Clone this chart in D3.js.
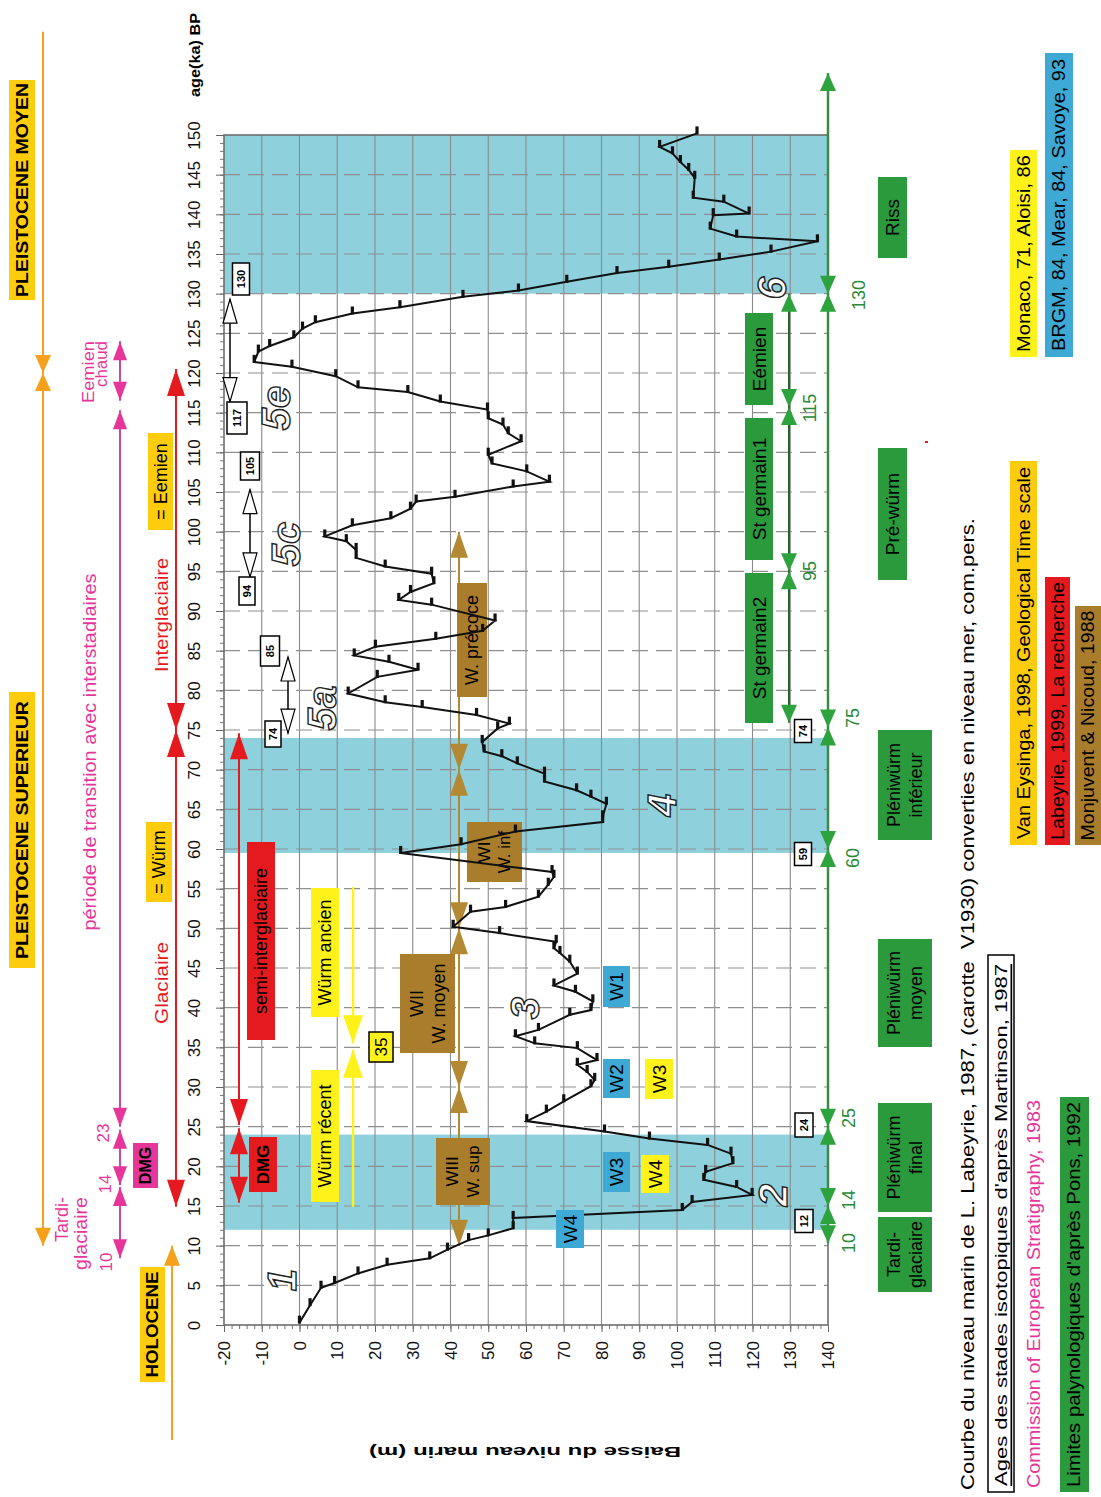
<!DOCTYPE html>
<html><head><meta charset="utf-8">
<script src="https://cdn.jsdelivr.net/npm/d3@7/dist/d3.min.js"></script>
<style>
body{margin:0;background:#fff;}
svg text{font-family:"Liberation Sans",Arial,Helvetica,sans-serif;}
</style></head>
<body>
<svg id="chart" width="1101" height="1497"></svg>
<script>
// ---------------- DATA ----------------
// Sea-level curve (Labeyrie 1987): age in ka BP, and drop of sea level in m
const seaAges = [
 0.3, 2.5, 4.7, 5.3, 6.5, 7.6, 8.4, 9.5, 10.7, 11.3,
 12.2, 13.5, 14.5, 15.5, 16.4, 17.4, 18.3, 19.3, 20.4, 21.6,
 22.7, 23.5, 24.4, 25.7, 26.9, 28.2, 30.1, 30.9, 31.9, 32.8,
 33.4, 34.9, 35.5, 36.4, 37.2, 39.1, 39.7, 40.8, 42.0, 42.8,
 44.3, 45.8, 46.9, 47.5, 48.3, 49.4, 50.2, 52.1, 52.7, 54.0,
 55.5, 56.5, 57.1, 59.5, 60.6, 62.2, 63.4, 64.0, 65.7, 66.6,
 67.4, 68.5, 69.5, 70.8, 71.7, 72.3, 73.5, 75.2, 75.8, 76.9,
 77.9, 78.5, 79.6, 81.7, 82.6, 83.6, 84.4, 85.5, 86.5, 87.5,
 88.8, 90.8, 91.4, 92.4, 93.5, 94.7, 95.6, 96.7, 97.7, 98.8,
 99.4, 100.8, 101.7, 102.9, 103.8, 104.4, 105.7, 106.3, 107.6, 108.6,
 109.7, 111.4, 112.4, 113.5, 114.3, 115.4, 116.4, 117.6, 118.2, 119.6,
 120.8, 121.4, 122.7, 123.4, 124.5, 125.6, 126.4, 127.5, 128.3, 129.6,
 130.4, 131.5, 132.6, 133.4, 134.3, 135.3, 136.6, 137.2, 138.2, 139.9,
 140.1, 141.6, 142.1, 144.6, 145.6, 146.6, 147.7, 148.5, 150.2];
const seaLevels = [
 0, 2.8, 5.7, 9.3, 15.5, 23.2, 34.5, 39.2, 44.8, 50.0,
 56.6, 56.6, 101.4, 104.0, 119.9, 115.8, 107.1, 107.6, 114.8, 114.3,
 108.1, 92.7, 80.8, 60.2, 65.4, 70.0, 77.2, 78.2, 76.2, 73.6,
 78.8, 73.6, 62.3, 57.2, 63.3, 71.6, 77.2, 77.7, 73.1, 67.4,
 73.6, 71.6, 69.0, 67.4, 68.0, 53.0, 40.7, 45.3, 54.6, 63.3,
 65.9, 67.4, 66.9, 26.8, 42.8, 57.2, 80.3, 80.3, 81.3, 77.2,
 73.4, 64.9, 64.9, 57.7, 53.6, 48.9, 48.4, 52.5, 55.6, 46.9,
 32.5, 22.7, 12.9, 20.6, 31.4, 23.7, 14.5, 20.1, 36.1, 48.5,
 51.8, 35.0, 26.3, 29.4, 35.6, 35.0, 22.7, 15.0, 15.0, 12.4,
 6.7, 14.0, 24.2, 29.4, 30.9, 41.2, 56.6, 66.2, 60.2, 51.0,
 50.0, 58.7, 55.3, 53.9, 50.0, 49.8, 37.3, 28.7, 15.5, 9.6,
 -2.0, -12.0, -10.9, -7.9, -1.5, 0.8, 4.2, 14.0, 26.6, 43.3,
 58.0, 70.8, 84.1, 97.8, 111.2, 124.9, 137.2, 115.8, 108.8, 109.6,
 119.1, 112.4, 104.3, 104.7, 103.1, 100.9, 98.8, 95.4, 105.3];
const ageTicks = d3.range(0, 151, 5);
const levelTicks = d3.range(-20, 141, 10);
const stageBands = [[130, 150], [59.5, 74], [12, 24]];   // isotope stages 6, 4, 2 (ka)
// chronological brackets (ages of breakpoints, ka)
const orangeBreaks = [163, 120, 10];
const holoceneBreaks = [10, -14.5];
const pinkBreaks = [[124, 116.5], [115.3, 25], [24.6, 17.6], [17.4, 8.4]];
const redBreaks = [120.5, 75, 14.9];
const red2Breaks = [[74.6, 25.2], [24.8, 15.4]];
const brownBreaks = [100, 70, 50, 30, 10];
const yellowBreaks = [[55.2, 35.5], [34.7, 14.9]];
const greenBreaks = [157.8, 130, 75.3, 60, 25, 15, 10.3];
const green2Breaks = [130, 115.7, 95, 75.9];
const whiteArrows = [[129.3, 116.4], [105.3, 94.3], [84.2, 74.6]];
const stageNames = ["1", "2", "3", "4", "5a", "5c", "5e", "6"];

// ---------------- SETUP ----------------
const svg = d3.select("#chart");
const ageY = d3.scaleLinear().domain([0, 150]).range([1325, 135]);
const levelX = d3.scaleLinear().domain([-20, 140]).range([224, 828]);
const X0 = levelX(-20), X1 = levelX(140), YT = ageY(150), YB = ageY(0);

const GOLD = "#fdcc0d", LEMON = "#fff21a", PINK = "#e6369a", RED = "#e51a1f",
      BROWN = "#a97d2c", BLUE = "#3ea9d4", GREEN = "#2a9a3c", GTXT = "#2a8a38",
      ORANGE = "#f6a11c";

function rtext(x, y, str, o = {}) {
  const t = svg.append("text")
    .attr("transform", `translate(${x},${y}) rotate(${o.rot ?? -90})`)
    .attr("text-anchor", o.anchor || "middle")
    .attr("dominant-baseline", "central")
    .attr("fill", o.fill || "#000")
    .style("font-size", (o.size || 18) + "px")
    .text(str);
  if (o.bold) t.style("font-weight", "bold");
  if (o.italic) t.style("font-style", "italic");
  if (o.len) t.attr("textLength", o.len).attr("lengthAdjust", "spacingAndGlyphs");
  if (o.underline) t.style("text-decoration", "underline");
  if (o.stroke) t.attr("stroke", o.stroke).attr("stroke-width", o.sw || 1);
  t.style("white-space", "pre");
  return t;
}
function rbox(x0, x1, y0, y1, fill, lines, o = {}) {
  svg.append("rect").attr("x", x0).attr("y", y0).attr("width", x1 - x0).attr("height", y1 - y0)
    .attr("fill", fill).attr("stroke", o.box || "none").attr("stroke-width", o.bw || 1.3);
  const cx = (x0 + x1) / 2, cy = (y0 + y1) / 2, n = lines.length, lh = o.lh || 20;
  lines.forEach((s, i) => rtext(cx + (i - (n - 1) / 2) * lh, cy, s,
    Object.assign({}, o, {len: Array.isArray(o.len) ? o.len[i] : o.len})));
}
function head(x, y, dir, color, L, hw, stroke) {
  // dir = -1 : pointing up (tip at y, body below) ; +1 : pointing down
  const b = y - dir * L;
  svg.append("path").attr("d", `M${x},${y}L${x - hw},${b}L${x + hw},${b}Z`)
    .attr("fill", color).attr("stroke", stroke || "none").attr("stroke-width", 1.2);
}
function bracket(x, ages, color, o = {}) {
  const ys = ages.map(ageY), n = ys.length;
  svg.append("line").attr("x1", x).attr("x2", x).attr("y1", ys[0]).attr("y2", ys[n - 1])
    .attr("stroke", o.line || color).attr("stroke-width", o.w || 2);
  const L = o.len || 20, hw = o.hw || 7;
  ys.forEach((y, i) => {
    if (i < n - 1 && (i > 0 || o.headTop !== false)) head(x, y, -1, color, L, hw, o.stroke);
    if (i > 0 && (i < n - 1 || o.headBottom !== false)) head(x, y, 1, color, L, hw, o.stroke);
  });
}

// ---------------- PLOT AREA ----------------
svg.append("g").selectAll("rect").data(stageBands).join("rect")
  .attr("x", X0).attr("width", X1 - X0)
  .attr("y", d => ageY(d[1])).attr("height", d => ageY(d[0]) - ageY(d[1]))
  .attr("fill", "#8fd0dd");

svg.append("g").selectAll("line").data(levelTicks.slice(1, -1)).join("line")
  .attr("x1", d => levelX(d)).attr("x2", d => levelX(d)).attr("y1", YT).attr("y2", YB)
  .attr("stroke", "#8a8a8a").attr("stroke-width", 1.1);
svg.append("g").selectAll("line").data(ageTicks.slice(1, -1)).join("line")
  .attr("x1", X0).attr("x2", X1).attr("y1", d => ageY(d)).attr("y2", d => ageY(d))
  .attr("stroke", "#8f8f8f").attr("stroke-width", 1.1).attr("stroke-dasharray", "16,8");

// left (age) axis
const axMinor = svg.append("g").attr("transform", `translate(${X0},0)`)
  .call(d3.axisLeft(ageY).tickValues(d3.range(0, 151, 1)).tickSize(4).tickFormat(""));
axMinor.select(".domain").remove();
axMinor.selectAll("line").attr("stroke", "#777");
const axAge = svg.append("g").attr("transform", `translate(${X0},0)`)
  .call(d3.axisLeft(ageY).tickValues(ageTicks).tickSize(8).tickFormat(d => String(d)));
axAge.select(".domain").remove();
axAge.selectAll("line").attr("stroke", "#666");
axAge.selectAll("text").attr("x", 0).attr("dy", 0)
  .attr("transform", "translate(-30,0) rotate(-90)")
  .attr("text-anchor", "middle").attr("dominant-baseline", "central")
  .attr("fill", "#111").style("font-size", "17px");

// bottom (level) axis
const axMinorB = svg.append("g").attr("transform", `translate(0,${YB})`)
  .call(d3.axisBottom(levelX).tickValues(d3.range(-20, 141, 2)).tickSize(4).tickFormat(""));
axMinorB.select(".domain").remove();
axMinorB.selectAll("line").attr("stroke", "#777");
const axLev = svg.append("g").attr("transform", `translate(0,${YB})`)
  .call(d3.axisBottom(levelX).tickValues(levelTicks).tickSize(7).tickFormat(d => String(d)));
axLev.select(".domain").remove();
axLev.selectAll("line").attr("stroke", "#666");
axLev.selectAll("text").attr("y", 0).attr("dy", 0)
  .attr("transform", "translate(0,16) rotate(-90)")
  .attr("text-anchor", "end").attr("dominant-baseline", "central")
  .attr("fill", "#111").style("font-size", "17px");

svg.append("rect").attr("x", X0).attr("y", YT).attr("width", X1 - X0).attr("height", YB - YT)
  .attr("fill", "none").attr("stroke", "#6e6e6e").attr("stroke-width", 1.6);

// ---------------- IN-PLOT ANNOTATIONS (under curve) ----------------
red2Breaks.forEach(b => bracket(239, b, RED, {len: 26, hw: 9}));
rbox(247, 275, 842, 1040, RED, ["semi-interglaciaire"], {size: 18});
rbox(249, 277, 1137, 1192, RED, ["DMG"], {size: 17, bold: true});

bracket(353, yellowBreaks[0], LEMON, {len: 28, hw: 10, headTop: false, w: 2.5});
bracket(353, yellowBreaks[1], LEMON, {len: 28, hw: 10, headBottom: false, w: 2.5});
rbox(311, 339, 888, 1017, LEMON, ["Würm ancien"], {size: 18});
rbox(311, 339, 1070, 1202, LEMON, ["Würm récent"], {size: 18});
rbox(369, 393, 1032, 1062, LEMON, ["35"], {size: 17, box: "#000", bw: 1.5});

bracket(459, brownBreaks, "#b38a33", {len: 26, hw: 9});
rbox(457, 487, 583, 697, BROWN, ["W. précoce"], {size: 18});
rbox(467, 522, 822, 882, BROWN, ["WI", "W. inf"], {size: 17, lh: 20});
rbox(400, 455, 954, 1053, BROWN, ["WII", "W. moyen"], {size: 18, lh: 22});
rbox(436, 490, 1138, 1205, BROWN, ["WIII", "W. sup"], {size: 17, lh: 21});

[[230], [250], [288]].forEach((p, i) =>
  bracket(p[0], whiteArrows[i], "#fff", {len: 24, hw: 7, stroke: "#000", line: "#000", w: 1.5}));

[["130", 241, 279, 17, 32], ["117", 237, 418, 20, 32], ["105", 250, 466, 19, 28],
 ["94", 247, 591, 16, 28], ["85", 270, 651, 19, 30], ["74", 273, 734, 16, 26],
 ["74", 803, 731, 17, 23], ["59", 803, 854, 17, 23], ["24", 804, 1125, 18, 24], ["12", 804, 1221, 18, 23]]
 .forEach(d => rbox(d[1] - d[3] / 2, d[1] + d[3] / 2, d[2] - d[4] / 2, d[2] + d[4] / 2, "#fff", [d[0]],
   {size: 11, bold: true, box: "#000", bw: 1.5}));

// ---------------- CURVE ----------------
const pts = seaAges.map((a, i) => [a, seaLevels[i]]);
svg.append("path").datum(pts)
  .attr("d", d3.line().x(d => levelX(d[1])).y(d => ageY(d[0])))
  .attr("fill", "none").attr("stroke", "#111").attr("stroke-width", 2);
svg.append("g").selectAll("rect").data(pts).join("rect")
  .attr("x", d => levelX(d[1]) - 1.6).attr("y", d => ageY(d[0]) - 7)
  .attr("width", 3.2).attr("height", 8).attr("fill", "#111");

// W boxes over curve
rbox(603, 630, 966, 1007, BLUE, ["W1"], {size: 19});
rbox(603, 630, 1059, 1098, BLUE, ["W2"], {size: 19});
rbox(603, 630, 1152, 1192, BLUE, ["W3"], {size: 19});
rbox(556, 584, 1210, 1248, BLUE, ["W4"], {size: 19});
rbox(645, 673, 1059, 1099, LEMON, ["W3"], {size: 19});
rbox(641, 669, 1155, 1193, LEMON, ["W4"], {size: 19});

// stage numbers
[[282, 1280], [773, 1195], [525, 1008], [662, 805], [322, 708], [286, 544], [276, 408], [772, 288]]
 .forEach((p, i) => rtext(p[0], p[1], stageNames[i],
   {size: 40, bold: true, italic: true, fill: "#fff", stroke: "#222", sw: 1.4}));

// ---------------- GREEN (pollen) SCALE ----------------
bracket(828, greenBreaks, "#2ea23d", {line: "#3a8a48", len: 18, hw: 8, w: 2.5, headBottom: true});
bracket(789, green2Breaks, "#2ea23d", {line: "#1f6a2a", len: 18, hw: 8, w: 2});
[["130", 859, 295], ["115", 810, 408], ["95", 810, 571], ["75", 853, 718], ["60", 853, 858],
 ["25", 849, 1118], ["14", 849, 1200], ["10", 849, 1243]]
 .forEach(d => rtext(d[1], d[2], d[0], {fill: GTXT, size: 18}));
rbox(878, 907, 177, 258, GREEN, ["Riss"], {size: 19});
rbox(745, 773, 313, 405, GREEN, ["Eémien"], {size: 19});
rbox(745, 773, 418, 560, GREEN, ["St germain1"], {size: 19});
rbox(745, 773, 573, 723, GREEN, ["St germain2"], {size: 19});
rbox(878, 907, 448, 580, GREEN, ["Pré-würm"], {size: 19});
rbox(878, 932, 730, 840, GREEN, ["Pléniwürm", "inférieur"], {size: 18, lh: 22});
rbox(878, 932, 939, 1047, GREEN, ["Pléniwürm", "moyen"], {size: 18, lh: 22});
rbox(878, 932, 1103, 1212, GREEN, ["Pléniwürm", "final"], {size: 18, lh: 22});
rbox(878, 932, 1217, 1292, GREEN, ["Tardi-", "glaciaire"], {size: 18, lh: 22});

// ---------------- LEFT BRACKETS ----------------
bracket(43, orangeBreaks, ORANGE, {len: 18, hw: 8, headTop: false});
bracket(172, holoceneBreaks, ORANGE, {len: 20, hw: 8, headBottom: false});
pinkBreaks.forEach(b => bracket(120, b, PINK, {line: "#c24aae", len: 19, hw: 7}));
bracket(176, redBreaks, RED, {len: 27, hw: 9});

rbox(9, 35, 80, 300, GOLD, ["PLEISTOCENE MOYEN"], {bold: true, size: 17, len: 214});
rbox(9, 35, 692, 968, GOLD, ["PLEISTOCENE SUPERIEUR"], {bold: true, size: 17, len: 258});
rbox(140, 165, 1267, 1382, GOLD, ["HOLOCENE"], {bold: true, size: 17, len: 106});
rbox(133, 158, 1143, 1188, PINK, ["DMG"], {bold: true, size: 16});
rbox(148, 173, 433, 530, GOLD, ["= Eemien"], {size: 18});
rbox(146, 172, 822, 902, GOLD, ["= Würm"], {size: 18});
rtext(162, 615, "Interglaciaire", {fill: RED, size: 18, len: 114});
rtext(162, 983, "Glaciaire", {fill: RED, size: 18, len: 82});
rtext(90, 752, "période de transition avec interstadiaires", {fill: PINK, size: 18, len: 357});
rtext(88, 341, "Eemien", {fill: PINK, size: 17, anchor: "end", len: 62});
rtext(101, 341, "chaud", {fill: PINK, size: 17, anchor: "end", len: 46});
rtext(62, 1197, "Tardi-", {fill: PINK, size: 18, anchor: "end"});
rtext(81, 1197, "glaciaire", {fill: PINK, size: 18, anchor: "end", len: 73});
rtext(106, 1262, "10", {fill: PINK, size: 17});
rtext(105, 1184, "14", {fill: PINK, size: 17});
rtext(103, 1133, "23", {fill: PINK, size: 17});

rtext(194, 55, "age(ka) BP", {bold: true, size: 15, len: 84});
rtext(525, 1452, "Baisse du niveau marin (m)", {bold: true, size: 15, rot: 180, len: 312});

// ---------------- FOOTER / SOURCES ----------------
rtext(967, 1490, "Courbe du niveau marin de L. Labeyrie, 1987, (carotte  V1930) converties en niveau mer, com.pers.",
  {anchor: "start", size: 19, len: 972});
svg.append("rect").attr("x", 988).attr("y", 955).attr("width", 26).attr("height", 537)
  .attr("fill", "#fff").attr("stroke", "#000").attr("stroke-width", 1.5);
rtext(1001, 1486, "Ages des stades isotopiques d'après Martinson, 1987",
  {anchor: "start", size: 17, len: 522, underline: true});
rtext(1034, 1488, "Commission of European Stratigraphy, 1983", {anchor: "start", fill: PINK, size: 18, len: 388});
svg.append("rect").attr("x", 1060).attr("y", 1097).attr("width", 29).attr("height", 395).attr("fill", GREEN);
rtext(1074, 1487, "Limites palynologiques d'après Pons, 1992", {anchor: "start", size: 18, len: 385});

rbox(1010, 1037, 150, 357, LEMON, ["Monaco, 71, Aloisi, 86"], {size: 18, len: 197});
rbox(1045, 1073, 53, 357, BLUE, ["BRGM, 84, Mear, 84, Savoye, 93"], {size: 18, len: 292});
rbox(1010, 1037, 461, 845, GOLD, ["Van Eysinga, 1998, Geological Time scale"], {size: 18, len: 372});
rbox(1045, 1070, 577, 845, RED, ["Labeyrie, 1999, La recherche"], {size: 18, len: 258});
rbox(1075, 1101, 606, 845, BROWN, ["Monjuvent & Nicoud, 1988"], {size: 18, len: 230});
svg.append("rect").attr("x", 925).attr("y", 441).attr("width", 3).attr("height", 2).attr("fill", RED);
</script>
</body></html>
